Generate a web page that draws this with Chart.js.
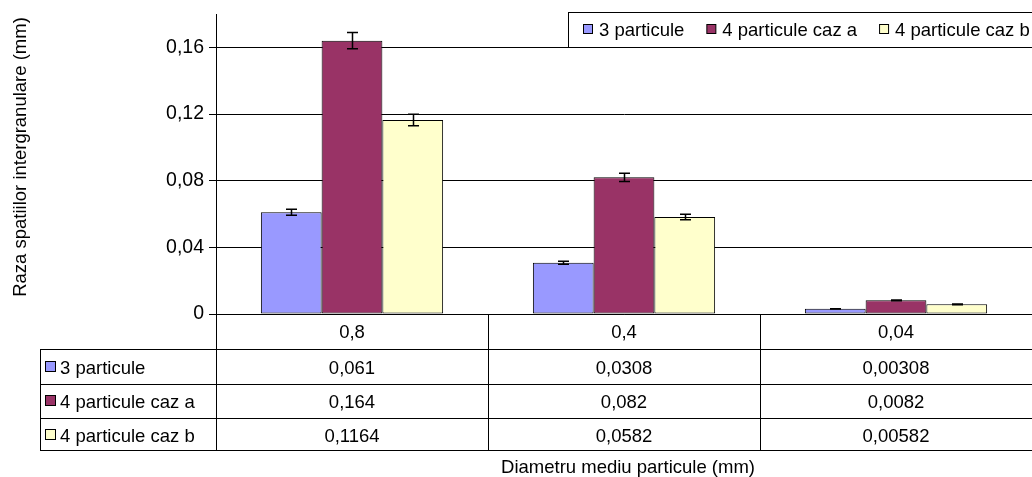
<!DOCTYPE html>
<html>
<head>
<meta charset="utf-8">
<script src="https://cdn.jsdelivr.net/npm/chart.js@4.4.1/dist/chart.umd.min.js"></script>
<style>
  html, body { margin: 0; padding: 0; background: #fff; }
  #wrap { width: 1032px; height: 477px; position: relative; }
</style>
</head>
<body>
<div id="wrap"><canvas id="grafic"></canvas></div>
<script>
// Date
const categorii = ['0,8', '0,4', '0,04'];
const serie3 = [0.061, 0.0308, 0.00308];
const serie4a = [0.164, 0.082, 0.0082];
const serie4b = [0.1164, 0.0582, 0.00582];
const textSerie3 = ['0,061', '0,0308', '0,00308'];
const textSerie4a = ['0,164', '0,082', '0,0082'];
const textSerie4b = ['0,1164', '0,0582', '0,00582'];
const eroare3 = [0.0018, 0.0009, 0.0001];
const eroare4a = [0.0049, 0.0025, 0.0002];
const eroare4b = [0.0035, 0.0017, 0.0002];
const valoriTick = [0, 0.04, 0.08, 0.12, 0.16];
const eticheteTick = ['0', '0,04', '0,08', '0,12', '0,16'];

const FONT = '"Liberation Sans", Arial, sans-serif';

const serii = [
  { nume: '3 particule', culoare: '#9999FF', date: serie3, text: textSerie3, eroare: eroare3 },
  { nume: '4 particule caz a', culoare: '#993366', date: serie4a, text: textSerie4a, eroare: eroare4a },
  { nume: '4 particule caz b', culoare: '#FFFFCC', date: serie4b, text: textSerie4b, eroare: eroare4b }
];

// bare de eroare
const pluginErori = {
  id: 'erori',
  afterDatasetsDraw(chart) {
    const ctx = chart.ctx;
    const y = chart.scales.y;
    ctx.save();
    ctx.strokeStyle = '#000';
    ctx.lineWidth = 1.5;
    chart.data.datasets.forEach((ds, i) => {
      const meta = chart.getDatasetMeta(i);
      meta.data.forEach((bara, j) => {
        const v = ds.data[j];
        const e = serii[i].eroare[j];
        const sus = y.getPixelForValue(v + e);
        const jos = y.getPixelForValue(v - e);
        const x = Math.round(bara.x) + 0.5;
        ctx.beginPath();
        ctx.moveTo(x, sus); ctx.lineTo(x, jos);
        ctx.moveTo(x - 5.5, sus); ctx.lineTo(x + 5.5, sus);
        ctx.moveTo(x - 5.5, jos); ctx.lineTo(x + 5.5, jos);
        ctx.stroke();
      });
    });
    ctx.restore();
  }
};

// tabelul de date, legenda si titlurile axelor
const pluginTabel = {
  id: 'tabel',
  afterDraw(chart) {
    const ctx = chart.ctx;
    const xs = chart.scales.x;
    const arie = chart.chartArea;
    const pas = (arie.right - arie.left) / categorii.length;
    const stanga = 40;
    const randuri = [arie.bottom, 349, 384, 418, 450];
    const linii = [338, 374, 408, 442];
    ctx.save();
    ctx.fillStyle = '#000';
    ctx.strokeStyle = '#000';
    ctx.lineWidth = 1;
    ctx.textBaseline = 'alphabetic';

    // linii orizontale
    ctx.beginPath();
    for (let r = 1; r < randuri.length; r++) {
      const yy = randuri[r] + 0.5;
      ctx.moveTo(stanga, yy); ctx.lineTo(arie.right, yy);
    }
    // linii verticale
    ctx.moveTo(stanga + 0.5, randuri[1]); ctx.lineTo(stanga + 0.5, randuri[4] + 1);
    for (let c = 0; c < categorii.length; c++) {
      const xx = Math.round(arie.left + pas * c) + 0.5;
      ctx.moveTo(xx, randuri[0]); ctx.lineTo(xx, randuri[4] + 1);
    }
    ctx.stroke();

    ctx.font = '18.5px ' + FONT;
    // categorii
    ctx.textAlign = 'center';
    categorii.forEach((c, i) => ctx.fillText(c, xs.getPixelForValue(i), linii[0]));
    // randuri cu valori
    serii.forEach((s, r) => {
      const bl = linii[r + 1];
      ctx.fillStyle = s.culoare;
      ctx.fillRect(45.5, bl - 12.5, 10, 10);
      ctx.strokeRect(45.5, bl - 12.5, 10, 10);
      ctx.fillStyle = '#000';
      ctx.textAlign = 'left';
      ctx.fillText(s.nume, 60, bl);
      ctx.textAlign = 'center';
      s.text.forEach((t, i) => ctx.fillText(t, xs.getPixelForValue(i), bl));
    });

    // titlu axa x
    ctx.textAlign = 'center';
    ctx.fillText('Diametru mediu particule (mm)', 628, 473);
    // titlu axa y
    ctx.save();
    ctx.font = '18.5px ' + FONT;
    ctx.translate(26, 157);
    ctx.rotate(-Math.PI / 2);
    ctx.fillText('Raza spatiilor intergranulare (mm)', 0, 0);
    ctx.restore();

    // legenda
    const lx = 568, ly = 12, lh = 35;
    ctx.font = '18.5px ' + FONT;
    ctx.fillStyle = '#fff';
    ctx.fillRect(lx, ly, 1032 - lx, lh);
    ctx.strokeRect(lx + 0.5, ly + 0.5, 1032 - lx, lh);
    let px = 583;
    serii.forEach(s => {
      ctx.fillStyle = s.culoare;
      ctx.fillRect(px + 0.5, 24.5, 9, 9);
      ctx.strokeRect(px + 0.5, 24.5, 9, 9);
      ctx.fillStyle = '#000';
      ctx.textAlign = 'left';
      ctx.fillText(s.nume, px + 16, 36);
      px += 16 + ctx.measureText(s.nume).width + 22;
    });
    ctx.restore();
  }
};

new Chart(document.getElementById('grafic'), {
  type: 'bar',
  data: {
    labels: categorii,
    datasets: serii.map(s => ({
      label: s.nume,
      data: s.date,
      backgroundColor: s.culoare,
      borderColor: '#000',
      borderWidth: 1,
      borderSkipped: false,
      categoryPercentage: 0.67,
      barPercentage: 1
    }))
  },
  options: {
    responsive: true,
    maintainAspectRatio: false,
    animation: false,
    layout: { padding: { top: 14, right: 0, bottom: 0, left: 0 } },
    plugins: {
      legend: { display: false },
      tooltip: { enabled: false }
    },
    scales: {
      x: {
        ticks: { display: false },
        grid: { display: false },
        border: { display: true, color: '#000', width: 1 },
        afterFit(s) { s.height = 163; }
      },
      y: {
        min: 0,
        max: 0.18,
        afterBuildTicks(s) { s.ticks = valoriTick.map(v => ({ value: v })); },
        ticks: {
          color: '#000',
          font: { family: FONT, size: 19.5, lineHeight: 1 },
          padding: 5,
          callback: (v, i) => eticheteTick[i]
        },
        grid: { color: '#000', lineWidth: 1, tickLength: 7 },
        border: { display: true, color: '#000', width: 1 },
        afterFit(s) { s.width = 216; s.paddingTop = 0; s.paddingBottom = 0; }
      }
    }
  },
  plugins: [pluginErori, pluginTabel]
});
</script>
</body>
</html>
